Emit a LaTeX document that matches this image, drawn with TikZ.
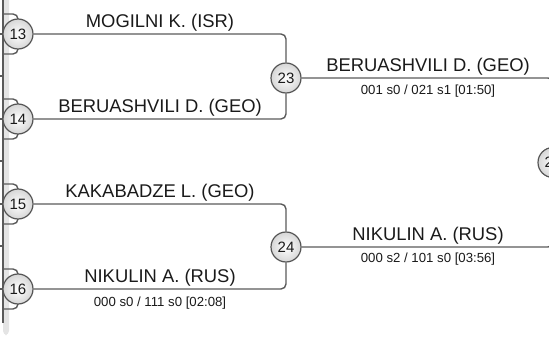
\documentclass[tikz,border=0pt]{standalone}
\usepackage{fontspec}
\setmainfont{Liberation Sans}
\definecolor{linegray}{HTML}{5A5A5A}
\definecolor{circgray}{HTML}{555555}
\definecolor{stripgray}{HTML}{E4E4E4}
\definecolor{txt}{HTML}{1A1A1A}
\begin{document}
\begin{tikzpicture}[x=1pt,y=-1pt,
  conn/.style={draw=linegray, line width=1.4pt, rounded corners=5pt},
  seed/.style={circle, draw=circgray, line width=1.2pt, minimum size=30pt, inner sep=0pt,
    inner color=white, outer color=black!16, text=txt, font=\fontsize{15}{15}\selectfont},
  pname/.style={anchor=base, text=txt, font=\fontsize{18.4}{20}\selectfont, inner sep=0pt},
  pscore/.style={anchor=base, text=txt, font=\fontsize{13.2}{14}\selectfont, inner sep=0pt}]
\useasboundingbox (0,0) rectangle (549,345);
\clip (0,0) rectangle (549,345);
% left panel strip
\fill[stripgray, rounded corners=4pt] (3,-10) rectangle (9,335);
\draw[conn] (3,-5) -- (3,323);
\foreach \t in {34,76,119,161,204,246,289} \draw[conn] (-2,\t) -- (3,\t);
% incoming arcs of the earlier round
\foreach \c in {34,119,204,289} {
  \draw[conn] (3,\c-20) -| (18,\c);
  \draw[conn] (3,\c+20) -| (18,\c);
}
% seeds
\node[seed] (s13) at (18,34) {13};
\node[seed] (s14) at (18,119) {14};
\node[seed] (s15) at (18,204) {15};
\node[seed] (s16) at (18,289) {16};
\node[seed] (s23) at (286,78) {23};
\node[seed] (s24) at (286,247) {24};
\node[seed] (s2x) at (553,162.5) {2\phantom{0}};
% connectors
\draw[conn] (s13.east) -| (s23.north);
\draw[conn] (s14.east) -| (s23.south);
\draw[conn] (s15.east) -| (s24.north);
\draw[conn] (s16.east) -| (s24.south);
\draw[conn] (s23.east) -| (s2x.north);
\draw[conn] (s24.east) -| (s2x.south);
% labels
\node[pname] (n13) at (160,27.5) {MOGILNI K. (ISR)};
\node[pname] (n14) at (160,112.5) {BERUASHVILI D. (GEO)};
\node[pname] (n15) at (160,197.5) {KAKABADZE L. (GEO)};
\node[pname] (n16) at (160,282.5) {NIKULIN A. (RUS)};
\node[pscore] (r16) at (160,306) {000 s0 / 111 s0 [02:08]};
\node[pname] (n23) at (428,71.5) {BERUASHVILI D. (GEO)};
\node[pscore] (r23) at (428,94.5) {001 s0 / 021 s1 [01:50]};
\node[pname] (n24) at (428,240.5) {NIKULIN A. (RUS)};
\node[pscore] (r24) at (428,262) {000 s2 / 101 s0 [03:56]};
\end{tikzpicture}
\end{document}
